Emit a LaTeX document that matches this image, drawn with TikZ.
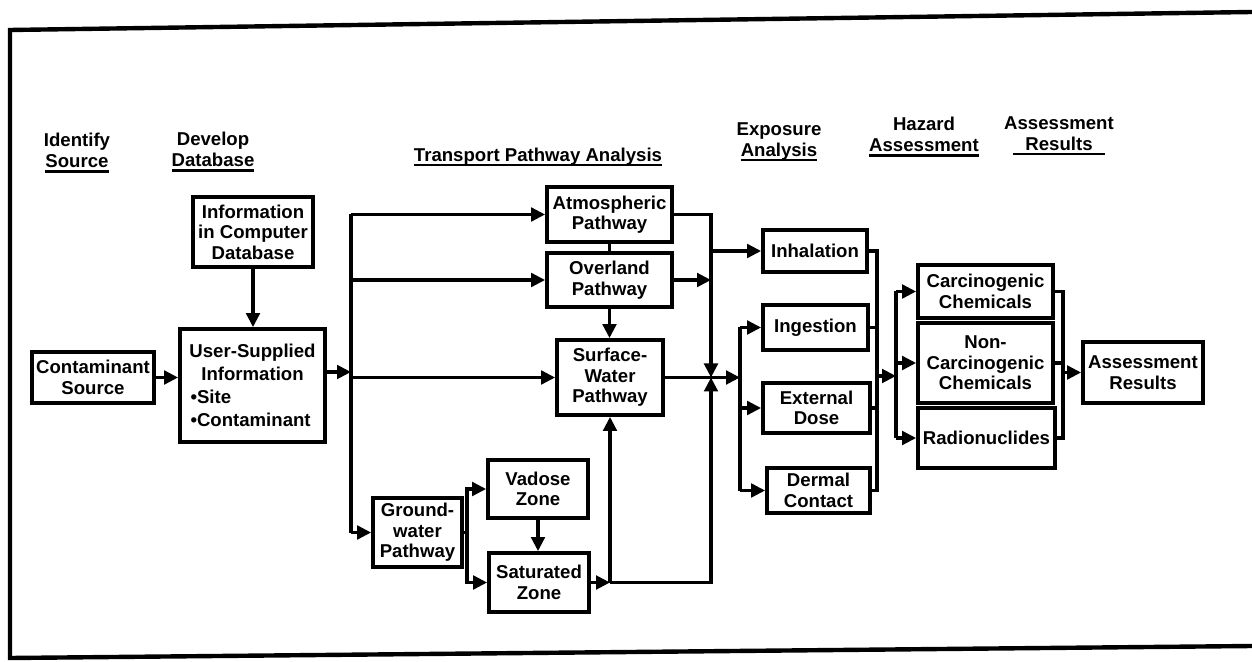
\documentclass[tikz,border=0pt]{standalone}
\usepackage{fontspec}
\setmainfont{Liberation Sans}
\usetikzlibrary{arrows.meta}
\newcommand{\hul}[1]{\setbox0=\hbox{#1}\leavevmode\rlap{\rule[-2.6pt]{\wd0}{1.2pt}}\box0}
\begin{document}
\begin{tikzpicture}[x=0.5pt,y=-0.5pt,
  every node/.style={font=\fontsize{9.3}{10.3}\selectfont\bfseries, inner sep=0.5pt},
  hdr/.style={align=center},
  box/.style 2 args={draw, line width=1.9pt, align=center, minimum width=#1, minimum height=#2},
  ln/.style={line width=1.6pt},
  arr/.style={ln, -{Triangle[length=7pt,width=6.8pt]}},
  frame/.style={line width=2.2pt}
]
\useasboundingbox (0,0) rectangle (1252,662);
\draw[frame] (1252,12) -- (10,30) -- (10,658) -- (1252,646);

% headers
\node[hdr] (hid)  at (77,153)   {Identify\\\hul{Source}};
\node[hdr] (hdev) at (213,152)  {Develop\\\hul{Database}};
\node[hdr] (htr)  at (538,157)  {\hul{Transport Pathway Analysis}};
\node[hdr] (hexp) at (779,142)  {Exposure\\\hul{Analysis}};
\node[hdr] (hhaz) at (924,137)  {Hazard\\\hul{Assessment}};
\node[hdr] (hres) at (1059,136) {Assessment\\\hul{\makebox[46pt]{Results}}};

% boxes
\node[box={61pt}{25.5pt}]   (src)  at (93,377.5)   {Contaminant\\Source};
\node[box={60pt}{35pt}]     (db)   at (253,232)    {Information\\in Computer\\Database};
\node[box={72.5pt}{56.5pt}] (user) at (252.5,385.5)
  {\parbox{70pt}{\fontsize{9.3}{11.5}\selectfont\centering User-Supplied\\Information\par\raggedright\hspace*{4pt}•Site\\\hspace*{4pt}•Contaminant}};
\node[box={62.5pt}{27.5pt}] (atm)  at (609.5,214.5) {Atmospheric\\Pathway};
\node[box={62.5pt}{27pt}]   (ovl)  at (609.5,280)   {Overland\\Pathway};
\node[box={53pt}{37.5pt}]   (sw)   at (610,377.5)   {Surface-\\Water\\Pathway};
\node[box={44.5pt}{34.5pt}] (gw)   at (417.5,532.5) {Ground-\\water\\Pathway};
\node[box={50pt}{29pt}]     (vad)  at (538,489)     {Vadose\\Zone};
\node[box={50pt}{29.5pt}]   (sat)  at (539,582.5)   {Saturated\\Zone};
\node[box={52pt}{21pt}]     (inh)  at (815,251)     {Inhalation};
\node[box={52.5pt}{22.5pt}] (ing)  at (815.5,327.5) {Ingestion};
\node[box={53.5pt}{25pt}]   (ext)  at (816.5,408)   {External\\Dose};
\node[box={51.5pt}{22.5pt}] (der)  at (818.5,490.5) {Dermal\\Contact};
\node[box={67.5pt}{26.5pt}] (car)  at (985.5,291.5) {Carcinogenic\\Chemicals};
\node[box={67.5pt}{40pt}]   (ncar) at (985.5,363)   {Non-\\Carcinogenic\\Chemicals};
\node[box={68.5pt}{30pt}]   (rad)  at (986.5,438)   {Radionuclides};
\node[box={60pt}{30.5pt}]   (res)  at (1143,372.5)  {Assessment\\Results};

% helper coordinates
\coordinate (trk) at (351,372);
\coordinate (x711) at (711,0);
\coordinate (x740) at (740,0);
\coordinate (x467) at (467,0);
\coordinate (x877) at (877,0);
\coordinate (hz) at (896,376);
\coordinate (x1063) at (1063,0);

% left part
\draw[arr] (src.east) -- (src.east -| user.west);
\draw[arr] (db.south) -- (db.south |- user.north);
\draw[arr] (user.east |- trk) -- (trk);
\draw[ln] (atm.west -| trk) -- (gw.west -| trk);
\draw[arr] (atm.west -| trk) -- (atm.west);
\draw[arr] (ovl.west -| trk) -- (ovl.west);
\draw[arr] (sw.west -| trk) -- (sw.west);
\draw[arr] (gw.west -| trk) -- (gw.west);

% transport
\draw[ln] (atm.south) -- (ovl.north);
\draw[arr] (ovl.south) -- (ovl.south |- sw.north);
\draw[arr] (atm.east) -| (sw.east -| x711);
\draw[arr] (ovl.east) -- (ovl.east -| x711);
\draw[arr] (inh.west -| x711) -- (inh.west);
\draw[arr] (sw.east) -- (sw.east -| x740);

% groundwater
\draw[ln] (gw.east) -- (gw.east -| x467);
\draw[arr] (gw.east -| x467) |- (vad.west);
\draw[arr] (gw.east -| x467) |- (sat.west);
\draw[arr] (vad.south) -- (vad.south |- sat.north);
\draw[arr] (sat.east) -- (sat.east -| sw.south);
\draw[arr] (sat.east -| sw.south) -- (sw.south);
\draw[arr] (sat.east -| sw.south) -| (sw.east -| x711);

% exposure
\draw[ln] (ing.west -| x740) -- (der.west -| x740);
\draw[arr] (ing.west -| x740) -- (ing.west);
\draw[arr] (ext.west -| x740) -- (ext.west);
\draw[arr] (der.west -| x740) -- (der.west);
\draw[ln] (inh.east) -- (inh.east -| x877) -- (der.east -| x877) -- (der.east);
\draw[ln] (ing.east) -- (ing.east -| x877);
\draw[ln] (ext.east) -- (ext.east -| x877);
\draw[arr] (hz -| x877) -- (hz);

% hazard
\draw[ln] (car.west -| hz) -- (rad.west -| hz);
\draw[arr] (car.west -| hz) -- (car.west);
\draw[arr] (ncar.west -| hz) -- (ncar.west);
\draw[arr] (rad.west -| hz) -- (rad.west);
\draw[ln] (car.east) -- (car.east -| x1063) -- (rad.east -| x1063) -- (rad.east);
\draw[ln] (ncar.east) -- (ncar.east -| x1063);
\draw[arr] (res.west -| x1063) -- (res.west);
\end{tikzpicture}
\end{document}
